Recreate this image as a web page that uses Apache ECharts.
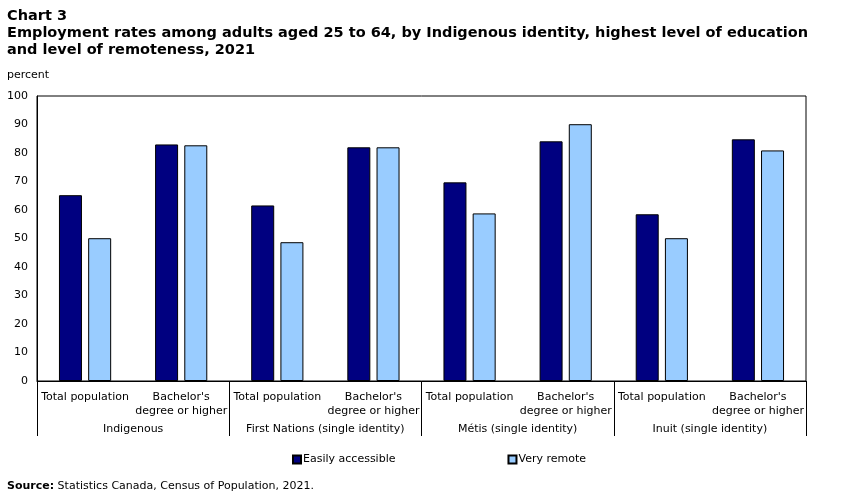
<!DOCTYPE html>
<html>
<head>
<meta charset="UTF-8">
<title>Chart 3</title>
<script src="https://cdn.jsdelivr.net/npm/echarts@6/dist/echarts.min.js"></script>
<style>
	html, body { margin: 0; padding: 0; background: #fff; }
	#main { width: 851px; height: 492px; }
</style>
</head>
<body>
<div id="main"></div>
<script>
	// categories and values
	var educ = ['Total population', "Bachelor's\ndegree or higher",
		'Total population', "Bachelor's\ndegree or higher",
		'Total population', "Bachelor's\ndegree or higher",
		'Total population', "Bachelor's\ndegree or higher"];
	var groups = ['Indigenous', 'First Nations (single identity)', 'Métis (single identity)', 'Inuit (single identity)'];
	var easily = [65.2, 83.0, 61.6, 82.0, 69.7, 84.1, 58.5, 84.8];
	var remote = [50.1, 82.7, 48.7, 82.0, 58.8, 90.1, 50.1, 80.9];
	var yTicks = [0, 10, 20, 30, 40, 50, 60, 70, 80, 90, 100];

	var font = 'Verdana, "DejaVu Sans", sans-serif';
	var myChart = echarts.init(document.getElementById('main'));

	var option = {
		animation: false,
		textStyle: { fontFamily: font, color: '#000' },
		title: [{
			text: 'Chart 3\nEmployment rates among adults aged 25 to 64, by Indigenous identity, highest level of education\nand level of remoteness, 2021',
			left: 2, top: 3,
			textStyle: { fontFamily: font, fontSize: 14.5, fontWeight: 'bold', lineHeight: 17, color: '#000' }
		}, {
			text: 'percent',
			left: 2, top: 65,
			textStyle: { fontFamily: font, fontSize: 11, fontWeight: 'normal', color: '#000' }
		}, {
			text: '{b|Source:} Statistics Canada, Census of Population, 2021.',
			left: 2, top: 476,
			textStyle: {
				fontFamily: font, fontSize: 11, fontWeight: 'normal', color: '#000',
				rich: { b: { fontFamily: font, fontSize: 11, fontWeight: 'bold' } }
			}
		}],
		legend: {
			left: 287, top: 449,
			itemWidth: 8, itemHeight: 8, itemGap: 112,
			icon: 'rect',
			textStyle: { fontFamily: font, fontSize: 11, color: '#000', padding: [0, 0, 0, -3] },
			data: ['Easily accessible', 'Very remote']
		},
		grid: {
			left: 37, right: 45, top: 96, bottom: 111,
			show: true, borderColor: '#000', borderWidth: 1
		},
		xAxis: [{
			type: 'category',
			data: educ,
			axisLine: { lineStyle: { color: '#000' } },
			axisTick: { show: false },
			axisLabel: { interval: 0, margin: 9, fontFamily: font, fontSize: 11, color: '#000', lineHeight: 14 }
		}, {
			type: 'category',
			position: 'bottom',
			data: groups,
			axisLine: { show: false },
			axisTick: { show: true, length: 55, lineStyle: { color: '#000' } },
			axisLabel: { interval: 0, margin: 43, fontFamily: font, fontSize: 11, color: '#000' }
		}],
		yAxis: {
			type: 'value',
			min: 0, max: 100, interval: 10,
			axisLine: { show: true, lineStyle: { color: '#000' } },
			axisTick: { show: false },
			splitLine: { show: false },
			axisLabel: {
				margin: 9, fontFamily: font, fontSize: 11, color: '#000',
				formatter: function (v) { return yTicks.indexOf(v) >= 0 ? String(v) : ''; }
			}
		},
		series: [{
			name: 'Easily accessible',
			type: 'bar',
			data: easily,
			barWidth: 23,
			barGap: '27%',
			itemStyle: { color: '#000080', borderColor: '#000', borderWidth: 1 }
		}, {
			name: 'Very remote',
			type: 'bar',
			data: remote,
			barWidth: 23,
			itemStyle: { color: '#99ccff', borderColor: '#000', borderWidth: 1 }
		}]
	};
	myChart.setOption(option);
</script>
</body>
</html>
